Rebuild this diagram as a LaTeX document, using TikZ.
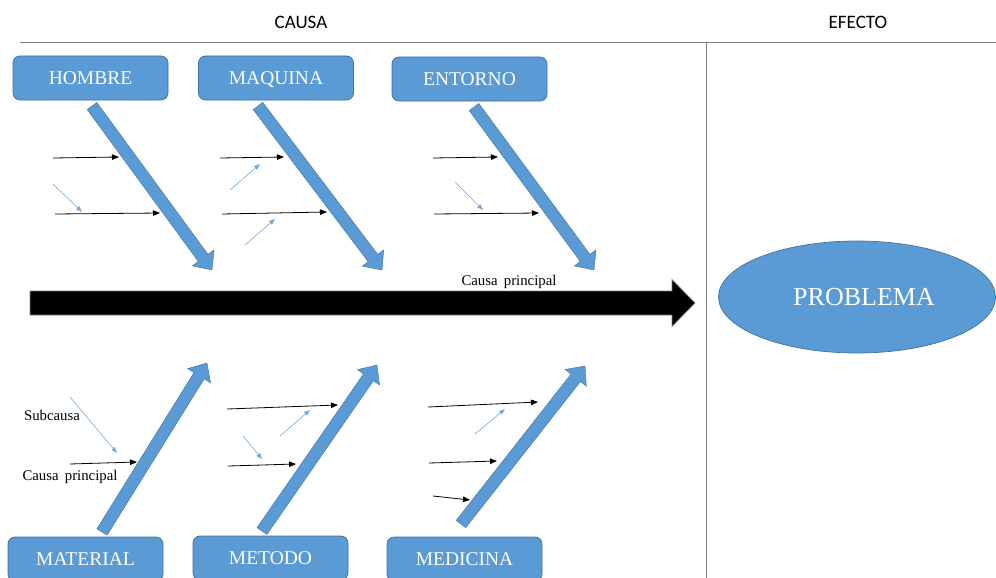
\documentclass[tikz,border=0pt]{standalone}
\usepackage{fontspec}
\setmainfont{Liberation Serif}
\newfontfamily\headfont{Carlito}
\usetikzlibrary{calc,arrows.meta,shapes.geometric}

\definecolor{boxblue}{HTML}{5B9BD5}
\definecolor{boxedge}{HTML}{41719C}
\definecolor{rulegray}{HTML}{808080}

% Block arrow drawn as a polygon: #1 tail, #2 tip, #3 half shaft width,
% #4 half head width, #5 head length, #6 style
\newcommand\blockarrow[6]{%
  \coordinate (hb) at ($(#2)!#5!(#1)$);
  \path[#6] ($(#1)!#3!90:(#2)$) -- ($(hb)!#3!-90:(#1)$) -- ($(hb)!#4!-90:(#1)$)
    -- (#2) -- ($(hb)!#4!90:(#1)$) -- ($(hb)!#3!90:(#1)$) -- ($(#1)!#3!-90:(#2)$) -- cycle;
}

\tikzset{
  catbox/.style={draw=boxedge, line width=0.7pt, fill=boxblue, rounded corners=7pt,
    minimum width=155pt, minimum height=44pt, inner sep=0pt, text=white,
    text height=13.2pt, text depth=0pt,
    font=\fontsize{19.5}{22}\selectfont},
  bone/.style={fill=boxblue, draw=boxedge, line width=0.4pt},
  spine/.style={fill=black, draw=rulegray, line width=0.6pt},
  cause/.style={draw=black, line width=0.8pt, -{Triangle[length=7pt,width=5.5pt]}},
  subcause/.style={draw=boxblue!85!white, line width=0.6pt, -{Triangle[length=6pt,width=4.5pt]}},
  header/.style={font=\headfont\fontsize{19}{22}\selectfont, anchor=base},
  smalllabel/.style={font=\fontsize{14.8}{17}\selectfont, anchor=base, inner sep=0pt},
  rule/.style={draw=rulegray, line width=1pt}
}

\begin{document}
\begin{tikzpicture}[x=1pt, y=-1pt]
\useasboundingbox (0,0) rectangle (996,578);
\clip (0,0) rectangle (996,578);

% headings and frame lines
\node[header] (causa) at (301,29) {CAUSA};
\node[header] (efecto) at (858,29) {EFECTO};
\coordinate (ruleL) at (20,43);
\coordinate (ruleR) at (996,43);
\coordinate (divT) at (706,43);
\coordinate (divB) at (706,578);
\draw[rule] (ruleL) -- (ruleR);
\draw[rule] (divT) -- (divB);

% category boxes
\node[catbox] (hombre)   at (90.5,78)  {HOMBRE};
\node[catbox] (maquina)  at (276,78)   {MAQUINA};
\node[catbox] (entorno)  at (469.5,79) {ENTORNO};
\node[catbox] (material) at (85.5,559) {MATERIAL};
\node[catbox] (metodo)   at (270.5,558){METODO};
\node[catbox] (medicina) at (464.5,559){MEDICINA};

% effect
\node[ellipse, fill=boxblue, draw=boxedge, line width=0.7pt, minimum width=277pt,
  minimum height=112pt, inner sep=0pt, text=white, font=\fontsize{26}{30}\selectfont]
  (problema) at (857,297) {\kern14pt PROBLEMA};

% main spine
\coordinate (spineT) at (30,303);
\coordinate (spineH) at (695,303);
\blockarrow{spineT}{spineH}{12pt}{23.5pt}{23pt}{spine}
\node[smalllabel] (spinelabel) at (509,285) {Causa\, principal};

% upper bones
\coordinate (b1t) at (92,106);  \coordinate (b1h) at (212,270);
\coordinate (b2t) at (258,106); \coordinate (b2h) at (382,270);
\coordinate (b3t) at (474,107); \coordinate (b3h) at (594,270);
\blockarrow{b1t}{b1h}{6pt}{13.5pt}{15pt}{bone}
\blockarrow{b2t}{b2h}{6pt}{13.5pt}{15pt}{bone}
\blockarrow{b3t}{b3h}{6pt}{13.5pt}{15pt}{bone}

% lower bones
\coordinate (b4t) at (102,532); \coordinate (b4h) at (207,363);
\coordinate (b5t) at (262,531); \coordinate (b5h) at (377,365);
\coordinate (b6t) at (461,524); \coordinate (b6h) at (585,366);
\blockarrow{b4t}{b4h}{6pt}{13.5pt}{15pt}{bone}
\blockarrow{b5t}{b5h}{6pt}{13.5pt}{15pt}{bone}
\blockarrow{b6t}{b6h}{6pt}{13.5pt}{15pt}{bone}

% causes on HOMBRE
\draw[cause] (53,158) coordinate (h1s) -- (119,157) coordinate (h1e);
\draw[subcause] (53,184) coordinate (h2s) -- (82,212) coordinate (h2e);
\draw[cause] (55,214) coordinate (h3s) -- (160,213) coordinate (h3e);

% causes on MAQUINA
\draw[cause] (220,158) coordinate (m1s) -- (284,157) coordinate (m1e);
\draw[subcause] (230,190) coordinate (m2s) -- (260,164) coordinate (m2e);
\draw[cause] (222,214) coordinate (m3s) -- (327,212) coordinate (m3e);
\draw[subcause] (245,245) coordinate (m4s) -- (275,219) coordinate (m4e);

% causes on ENTORNO
\draw[cause] (433,158) coordinate (e1s) -- (498,157) coordinate (e1e);
\draw[subcause] (455,182) coordinate (e2s) -- (483,210) coordinate (e2e);
\draw[cause] (434,214) coordinate (e3s) -- (539,213) coordinate (e3e);

% causes on MATERIAL
\draw[subcause] (70,397) coordinate (t1s) -- (117,453) coordinate (t1e);
\draw[cause] (70,464) coordinate (t2s) -- (137,462) coordinate (t2e);
\node[smalllabel] (sublabel) at (52,420) {Subcausa};
\node[smalllabel] (causelabel) at (70,480) {Causa\, principal};

% causes on METODO
\draw[cause] (227,409) coordinate (d1s) -- (338,405) coordinate (d1e);
\draw[subcause] (280,436) coordinate (d2s) -- (310,410) coordinate (d2e);
\draw[subcause] (243,436) coordinate (d3s) -- (262,459) coordinate (d3e);
\draw[cause] (228,466) coordinate (d4s) -- (296,464) coordinate (d4e);

% causes on MEDICINA
\draw[cause] (428,407) coordinate (c1s) -- (538,402) coordinate (c1e);
\draw[subcause] (475,434) coordinate (c2s) -- (505,409) coordinate (c2e);
\draw[cause] (429,463) coordinate (c3s) -- (497,461) coordinate (c3e);
\draw[cause] (433,496) coordinate (c4s) -- (470,500) coordinate (c4e);
\end{tikzpicture}
\end{document}
